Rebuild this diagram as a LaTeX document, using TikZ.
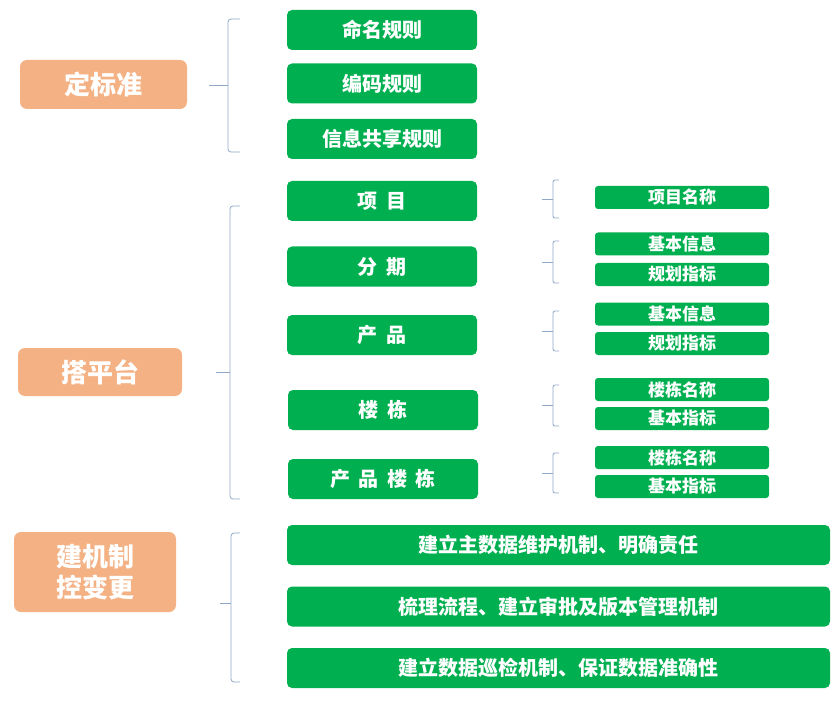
\documentclass[tikz,border=0pt]{standalone}
\usepackage{fontspec}
\setmainfont{Noto Sans CJK SC}[WordSpace=1.8]
\definecolor{grn}{HTML}{00B050}
\definecolor{org}{HTML}{F4B183}
\definecolor{brc}{HTML}{8FA8C8}
\begin{document}
\begin{tikzpicture}[x=1pt,y=-1pt,
  lvl/.style={fill=org,rounded corners=7pt,text=white,inner sep=1pt,align=center,
    font=\bfseries\fontsize{26}{31}\selectfont},
  item/.style={fill=grn,rounded corners=5pt,text=white,inner sep=1pt,
    font=\bfseries\fontsize{20}{22}\selectfont,minimum width=190pt,minimum height=40pt},
  wide/.style={item,minimum width=543pt},
  sub/.style={fill=grn,rounded corners=3pt,text=white,inner sep=1pt,
    font=\bfseries\fontsize{17}{19}\selectfont,minimum width=174pt,minimum height=23pt},
  brace/.style={draw=brc,line width=0.8pt,rounded corners=3pt}]
\useasboundingbox[fill=white] (0,0) rectangle (840,711);
% left column
\node[lvl,minimum width=167pt,minimum height=49pt] (std) at (103.5,84.5) {定标准};
\node[lvl,minimum width=164pt,minimum height=48pt] (plat) at (100,372) {搭平台};
\node[lvl,minimum width=162pt,minimum height=80pt] (mech) at (95,572) {建机制\\控变更};
% braces
\draw[brace] (240,19) -- (228,19) -- (228,152) -- (240,152);
\draw[brace] (209,85) -- (228,85);
\draw[brace] (240,206) -- (230,206) -- (230,499) -- (240,499);
\draw[brace] (216,372) -- (230,372);
\draw[brace] (240,533) -- (231,533) -- (231,682) -- (240,682);
\draw[brace] (220,603) -- (231,603);
\foreach \t/\b/\m in {180/218/199,241/283/262,311/351/331,385/426/405,453/493/473}{
  \draw[brace,rounded corners=2pt] (559,\t) -- (553,\t) -- (553,\b) -- (559,\b);
  \draw[brace] (542,\m) -- (553,\m);
}
% middle column
\node[item] (name) at (382,30) {命名规则};
\node[item] (code) at (382,83.5) {编码规则};
\node[item] (share) at (382,139) {信息共享规则};
\node[item] (proj) at (382,201) {项 目};
\node[item] (phase) at (382,266.5) {分 期};
\node[item] (prod) at (382,335) {产 品};
\node[item] (bldg) at (383,410) {楼 栋};
\node[item] (pbldg) at (383,479) {产 品 楼 栋};
\node[wide] (w1) at (558.5,545) {建立主数据维护机制、明确责任};
\node[wide] (w2) at (558.5,606.5) {梳理流程、建立审批及版本管理机制};
\node[wide] (w3) at (558.5,668) {建立数据巡检机制、保证数据准确性};
% right column
\node[sub] (s1) at (682,197.5) {项目名称};
\node[sub] (s2) at (682,244) {基本信息};
\node[sub] (s3) at (682,274.5) {规划指标};
\node[sub] (s4) at (682,314) {基本信息};
\node[sub] (s5) at (682,343.5) {规划指标};
\node[sub] (s6) at (682,389.5) {楼栋名称};
\node[sub] (s7) at (682,418.5) {基本指标};
\node[sub] (s8) at (682,457.5) {楼栋名称};
\node[sub] (s9) at (682,486.5) {基本指标};
\end{tikzpicture}
\end{document}
